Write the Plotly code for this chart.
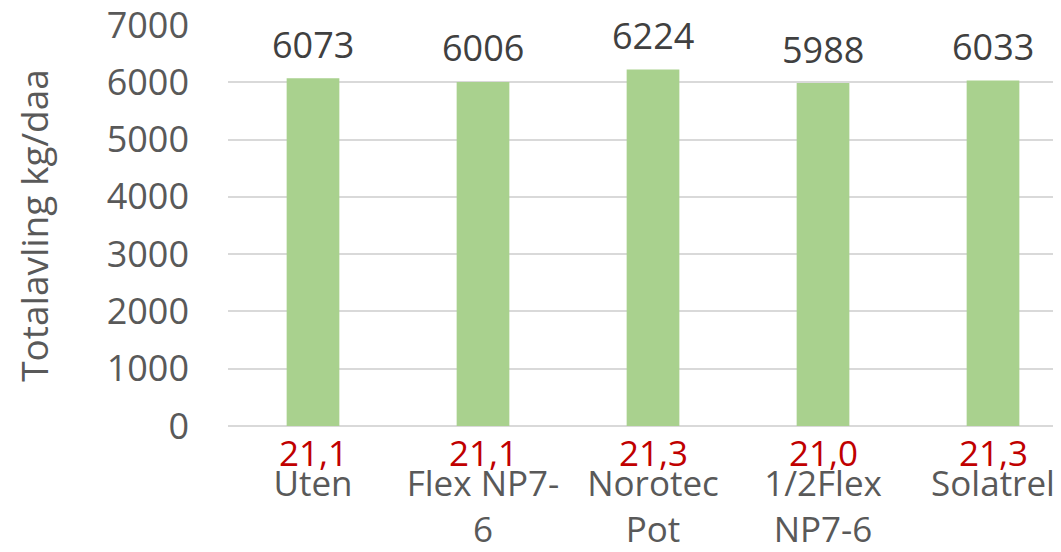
import plotly.graph_objects as go

categories = ["Uten", "Flex NP7-<br>6", "Norotec<br>Pot", "1/2Flex<br>NP7-6", "Solatrel"]
yields = [6073, 6006, 6224, 5988, 6033]
dry_matter = ["21,1", "21,1", "21,3", "21,0", "21,3"]
y_ticks = [0, 1000, 2000, 3000, 4000, 5000, 6000, 7000]

FONT = "Open Sans"
GREY = "#595959"

fig = go.Figure()
fig.add_trace(go.Bar(
    x=list(range(len(categories))),
    y=yields,
    marker=dict(color="#A9D18E", line=dict(width=0)),
    width=0.31,
    hoverinfo="skip",
))

annotations = []
for i, (v, dm) in enumerate(zip(yields, dry_matter)):
    annotations.append(dict(x=i, y=v, xref="x", yref="y", text=str(v), showarrow=False,
                            yanchor="middle", yshift=34,
                            font=dict(family=FONT, size=36, color="#404040")))
    annotations.append(dict(x=i, y=0, xref="x", yref="y", text=dm, showarrow=False,
                            yanchor="middle", yshift=-26,
                            font=dict(family=FONT, size=35, color="#C00000")))

fig.update_layout(
    width=1061, height=552,
    margin=dict(l=220, r=0, t=17, b=134, autoexpand=False),
    paper_bgcolor="white", plot_bgcolor="white",
    showlegend=False,
    annotations=annotations,
    xaxis=dict(
        tickmode="array", tickvals=list(range(len(categories))), ticktext=categories,
        range=[-0.5, 4.447], automargin=False,
        tickfont=dict(family=FONT, size=35, color=GREY),
        ticks="", showgrid=False, showline=False, zeroline=False,
        ticklabelstandoff=34, ticklabeloverflow="allow",
    ),
    yaxis=dict(
        range=[0, 7000.5], tickmode="array", tickvals=y_ticks, ticks="", automargin=False,
        tickfont=dict(family=FONT, size=36, color=GREY),
        showgrid=True, gridcolor="#D9D9D9", gridwidth=1.5,
        zeroline=True, zerolinecolor="#D9D9D9", zerolinewidth=1.5,
        showline=False,
        ticklabelstandoff=38, ticklabeloverflow="allow",
        title=dict(text="Totalavling kg/daa", font=dict(family=FONT, size=37, color=GREY), standoff=48),
    ),
)

fig.write_html("out.html")
